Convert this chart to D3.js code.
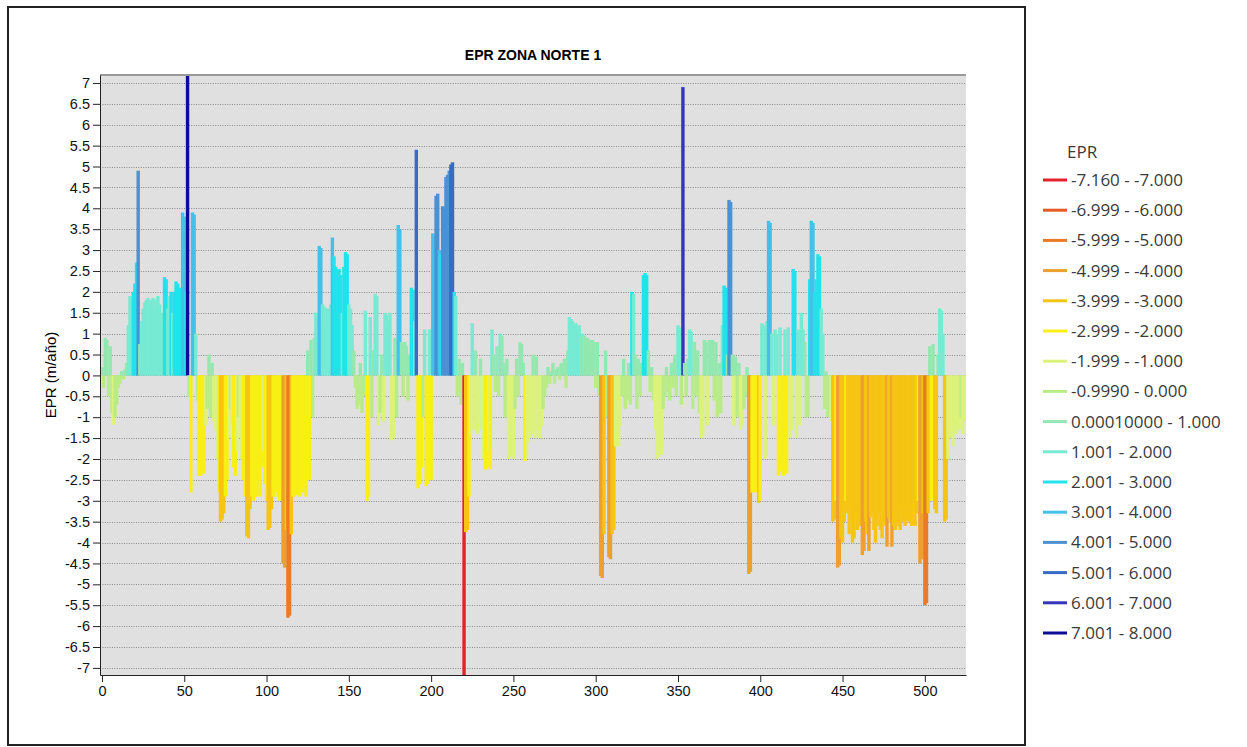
<!DOCTYPE html>
<meta charset="utf-8">
<style>
  body { margin: 0; background: #fff; }
  svg { display: block; }
  .grid line { stroke: #8a8a8a; stroke-width: 1; stroke-dasharray: 1,1.4; }
  .axis text { font-family: "Liberation Sans", Arial, sans-serif; font-size: 14.5px; fill: #111; }
  .axis path, .axis line { stroke: #222; }
  .legend text { font-family: "Open Sans", "Noto Sans", sans-serif; font-size: 17px; fill: #3a3a3a; }
</style>
<body>
<svg width="1247" height="747"></svg>
<script src="https://d3js.org/d3.v7.min.js"></script>
<script>
// EPR value per transect (index = transect id)
var epr = [
  0.2, -0.3, 0.9, 0.85, -0.5, 0.7, -0.9, -1.18, -1.0, -0.7,
  -0.3, -0.2, 0.1, -0.1, 0.15, 0.3, 1.2, 1.9, 1.8, 2.0,
  2.2, 2.7, 4.9, 0.75, 1.3, 1.6, 1.75, 1.8, 1.85, 1.7,
  1.8, 1.85, 1.6, 1.8, 1.9, 1.7, 1.2, 1.5, 2.35, 2.3,
  1.6, 1.9, 2.0, 1.5, 2.0, 2.25, 2.2, 2.1, 2.05, 3.9,
  3.8, 2.0, 7.5, -0.5, -2.8, 3.9, 3.85, 1.0, -0.6, -2.4,
  -2.4, -2.3, -2.35, -1.2, -0.8, 0.5, -1.0, 0.3, -1.1, -1.3,
  -2.0, -2.8, -3.5, -3.45, -3.3, -2.9, -2.5, -1.5, -0.8, -1.2,
  -2.2, -2.4, -1.8, -1.0, -1.5, -2.0, -2.5, -2.9, -3.85, -3.9,
  -3.2, -2.9, -3.0, -2.7, -2.9, -2.5, -2.9, -2.2, -1.8, -2.6,
  -3.0, -3.7, -3.65, -3.2, -2.9, -2.7, -2.8, -2.9, -3.0, -2.6,
  -4.5, -4.6, -3.7, -5.8, -5.75, -3.8, -2.9, -2.9, -2.85, -2.8,
  -2.9, -2.7, -2.8, -2.6, -2.9, 0.6, -2.5, 0.85, -1.0, 0.9,
  1.5, 1.4, 3.1, 3.05, 1.7, 1.65, 1.2, 1.6, 1.5, 1.7,
  3.3, 2.85, 2.6, 2.5, 2.55, 2.4, 1.5, 2.6, 2.95, 2.9,
  1.7, 1.6, 1.2, 0.6, -0.3, -0.8, -0.7, 0.3, -0.9, -0.5,
  1.55, -3.0, -2.9, 1.4, -1.0, 0.6, 1.95, 1.9, -1.2, -0.9,
  0.5, -1.1, 1.5, 1.45, 1.3, 1.5, -1.55, -1.5, 0.9, -1.0,
  3.6, 3.5, 0.8, -0.5, 0.8, 0.7, -0.6, 0.5, 2.1, 2.05,
  1.3, 5.4, -2.7, -2.6, -2.2, -1.0, 1.1, -2.65, -2.6, 1.1,
  -2.5, 3.4, 3.35, 4.3, 4.35, 3.0, 2.9, 4.05, 4.0, 4.75,
  4.8, 4.9, 5.05, 5.1, 2.0, 1.9, -0.5, 0.4, -0.7, 0.3,
  -7.5, -3.75, -3.7, -2.9, -1.4, 1.25, -1.3, 0.6, -1.4, -1.2,
  0.4, -1.3, -2.0, -2.25, -2.2, -1.8, -2.25, 1.1, 0.5, -0.4,
  0.7, -0.5, 1.0, 0.95, 0.3, -1.0, 0.4, -2.0, -1.95, -1.3,
  -2.0, -0.8, 0.4, -0.5, 0.8, 0.75, 0.3, -2.05, -2.0, -1.6,
  -1.5, -1.4, 0.5, -1.5, 0.45, -1.3, -1.5, -1.2, -0.8, -0.5,
  -0.3, 0.2, -0.2, 0.1, 0.3, -0.2, 0.15, 0.2, -0.1, 0.3,
  0.2, 0.4, -0.3, 0.6, 1.4, 1.35, 1.3, 1.2, 1.25, 1.1,
  1.2, 0.9, 1.0, 0.95, 0.8, 0.9, 0.85, 0.6, 0.85, 0.8,
  -0.3, 0.8, -0.5, -4.8, -4.85, -3.8, 0.6, -1.0, -4.35, -4.4,
  -3.8, -3.7, -1.7, -1.5, -1.7, -1.2, -0.5, 0.4, -0.8, -0.6,
  0.3, -0.7, 2.0, 1.95, 0.5, -0.8, 0.4, -0.5, 0.3, 2.4,
  2.45, 2.4, 0.6, -0.4, 0.2, -0.6, -1.3, -2.0, -1.95, -1.5,
  -1.9, -0.8, -0.5, 0.2, -0.4, -0.6, 0.3, -0.3, 0.5, -0.5,
  1.2, 1.15, -0.7, 6.9, 0.3, -0.5, 0.4, 1.1, 1.05, -0.8,
  0.8, -0.5, 0.6, -0.9, -1.5, -1.45, 0.85, 0.8, -1.2, 0.85,
  0.8, 0.85, -0.6, 0.8, -1.0, 0.3, -0.9, 1.2, 2.15, 2.1,
  0.5, 4.2, 4.15, 0.5, -1.2, 0.45, -1.0, 0.3, -1.3, -1.2,
  -0.8, -0.5, 0.2, -4.75, -4.7, -2.8, -2.75, -2.8, -2.6, -3.05,
  -3.0, 1.25, 1.2, -2.0, 1.3, 3.7, 3.65, 1.0, -1.2, 1.1,
  1.0, -2.4, 1.15, -2.3, -2.4, 1.1, -2.35, 1.15, -1.5, -1.3,
  2.55, 2.5, -1.5, 1.1, -1.2, 1.5, 1.1, 0.8, -1.0, -1.0,
  2.3, 3.7, 3.65, 2.0, 2.3, 2.9, 2.85, 1.6, 1.0, -0.8,
  0.1, -1.0, -0.9, -1.1, -3.5, -3.45, -3.0, -4.6, -4.55, -3.9,
  -4.0, -3.5, -3.0, -3.3, -3.8, -3.2, -4.0, -3.9, -3.3, -3.7,
  -3.2, -3.6, -4.3, -4.2, -3.5, -3.8, -4.2, -3.4, -3.3, -3.7,
  -4.0, -3.6, -3.3, -3.7, -3.9, -3.5, -3.6, -4.1, -3.4, -3.5,
  -4.1, -3.6, -3.7, -3.3, -3.6, -3.7, -3.2, -3.5, -3.6, -3.4,
  -3.5, -3.3, -3.6, -3.1, -3.6, -3.3, -3.0, -4.5, -4.4, -3.3,
  -5.5, -5.45, -3.3, 0.7, -3.0, 0.75, -3.2, -3.3, 0.5, 1.6,
  1.55, 1.0, -3.5, -3.45, -2.0, -1.5, -1.3, -1.7, -1.2, -1.4,
  -1.2, -1.3, -1.0, -1.4, -1.1
];

var classBreaks = [-7, -6, -5, -4, -3, -2, -1, 0, 1, 2, 3, 4, 5, 6, 7];
var classColors = ["#e4202a", "#e65a26", "#ea7a26", "#eea02e", "#f6c412", "#f8ef14",
                   "#dcf27a", "#b9ec86", "#92e8ae", "#76ead2", "#22e2ec", "#42c2ea",
                   "#4a92d4", "#3a6ac8", "#3434bc", "#0c0c96"];
var classLabels = ["-7.160 - -7.000", "-6.999 - -6.000", "-5.999 - -5.000", "-4.999 - -4.000",
                   "-3.999 - -3.000", "-2.999 - -2.000", "-1.999 - -1.000", "-0.9990 - 0.000",
                   "0.00010000 - 1.000", "1.001 - 2.000", "2.001 - 3.000", "3.001 - 4.000",
                   "4.001 - 5.000", "5.001 - 6.000", "6.001 - 7.000", "7.001 - 8.000"];
var xTicks = [0, 50, 100, 150, 200, 250, 300, 350, 400, 450, 500];
var yTicks = [-7, -6.5, -6, -5.5, -5, -4.5, -4, -3.5, -3, -2.5, -2, -1.5, -1, -0.5, 0,
              0.5, 1, 1.5, 2, 2.5, 3, 3.5, 4, 4.5, 5, 5.5, 6, 6.5, 7];

var svg = d3.select("svg");

// outer frame
svg.append("rect")
  .attr("x", 8).attr("y", 7).attr("width", 1017).attr("height", 738)
  .attr("fill", "none").attr("stroke", "#222").attr("stroke-width", 2);

var x = d3.scaleLinear().domain([-1.2, 525]).range([100, 966]);
var y = d3.scaleLinear().domain([-7.17, 7.19]).range([675, 75]);
var color = d3.scaleThreshold().domain(classBreaks).range(classColors);

svg.append("rect")
  .attr("x", 100).attr("y", 75).attr("width", 866).attr("height", 600)
  .attr("fill", "#e0e0e0");

svg.append("defs").append("clipPath").attr("id", "plot")
  .append("rect").attr("x", 100).attr("y", 75).attr("width", 866).attr("height", 600);

svg.append("g").attr("class", "grid")
  .selectAll("line").data(yTicks).enter().append("line")
  .attr("x1", 100).attr("x2", 966)
  .attr("y1", function(d) { return Math.round(y(d)) + 0.5; })
  .attr("y2", function(d) { return Math.round(y(d)) + 0.5; });

svg.append("g").attr("clip-path", "url(#plot)")
  .selectAll("rect").data(epr).enter().append("rect")
  .attr("x", function(d, i) { return x(i) - 1.7; })
  .attr("width", 3.4)
  .attr("y", function(d) { return Math.min(y(d), y(0)); })
  .attr("height", function(d) { return Math.abs(y(d) - y(0)); })
  .attr("fill", function(d) { return color(d); });

// top border of plot
svg.append("line")
  .attr("x1", 100).attr("x2", 966).attr("y1", 75).attr("y2", 75)
  .attr("stroke", "#999").attr("stroke-width", 2);

svg.append("g").attr("class", "axis")
  .attr("transform", "translate(100,0)")
  .call(d3.axisLeft(y).tickValues(yTicks).tickSize(7).tickSizeOuter(0).tickPadding(3)
    .tickFormat(function(d) { return String(d); }));

svg.append("g").attr("class", "axis")
  .attr("transform", "translate(0,675)")
  .call(d3.axisBottom(x).tickValues(xTicks).tickSize(7).tickSizeOuter(0).tickPadding(4)
    .tickFormat(function(d) { return String(d); }));

svg.append("text")
  .attr("x", 533).attr("y", 60)
  .attr("text-anchor", "middle")
  .style("font-family", "Liberation Sans, Arial, sans-serif")
  .style("font-weight", "bold").style("font-size", "14px")
  .text("EPR ZONA NORTE 1");

svg.append("text")
  .attr("transform", "translate(56,375) rotate(-90)")
  .attr("text-anchor", "middle")
  .style("font-family", "Liberation Sans, Arial, sans-serif")
  .style("font-size", "15px")
  .text("EPR (m/año)");

// legend
var legend = svg.append("g").attr("class", "legend");
legend.append("text").attr("x", 1067).attr("y", 158).text("EPR");
var items = legend.selectAll("g.item").data(classLabels).enter().append("g")
  .attr("class", "item")
  .attr("transform", function(d, i) { return "translate(0," + (180 + i * 30.2) + ")"; });
items.append("line")
  .attr("x1", 1043).attr("x2", 1067).attr("y1", 0).attr("y2", 0)
  .attr("stroke", function(d, i) { return classColors[i]; })
  .attr("stroke-width", 3);
items.append("text")
  .attr("x", 1071).attr("y", 6)
  .text(function(d) { return d; });
</script>
</body>
